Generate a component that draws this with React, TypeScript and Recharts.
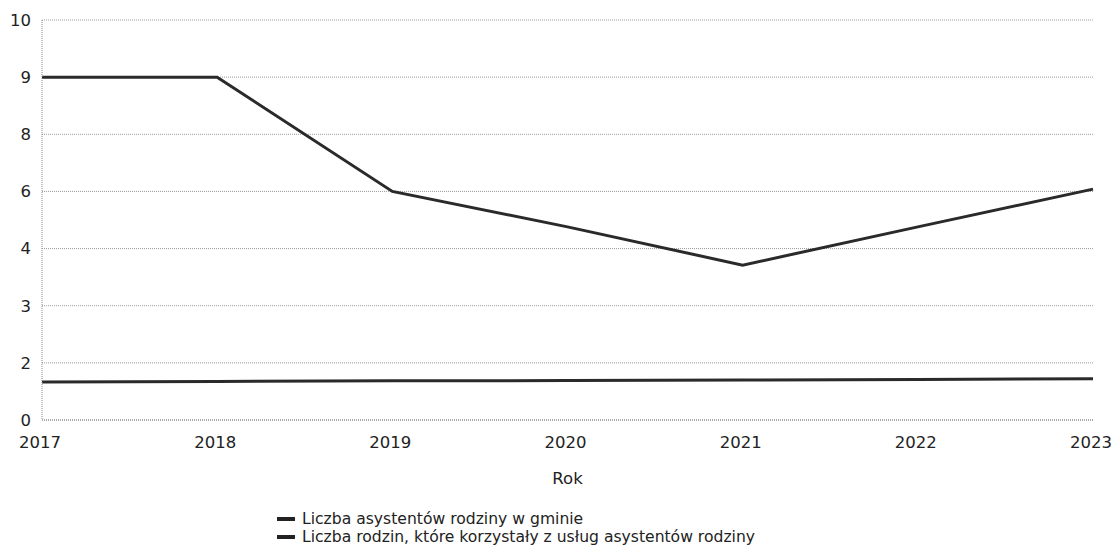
import React from 'react';
import { LineChart, Line, XAxis, YAxis, CartesianGrid, Legend } from 'recharts';

const years = ['2017', '2018', '2019', '2020', '2021', '2022', '2023'];
// Y tick labels as printed (evenly spaced on the axis)
const yTickLabels = [0, 2, 3, 4, 6, 8, 9, 10];
const assistants = [1.33, 1.35, 1.37, 1.38, 1.4, 1.42, 1.44];
const families = [9, 9, 6, 4.76, 3.71, 4.76, 6.08];
const seriesNames = [
  'Liczba asystentów rodziny w gminie',
  'Liczba rodzin, które korzystały z usług asystentów rodziny',
];

// map a value onto the evenly spaced printed tick positions
function toPos(v: number): number {
  for (let i = 0; i < yTickLabels.length - 1; i++) {
    const a = yTickLabels[i];
    const b = yTickLabels[i + 1];
    if (v >= a && v <= b) return i + (v - a) / (b - a);
  }
  return v < yTickLabels[0] ? 0 : yTickLabels.length - 1;
}

const data = years.map((y, i) => ({
  year: y,
  a: toPos(assistants[i]),
  f: toPos(families[i]),
}));

const tickFont = { fontFamily: 'DejaVu Sans', fontSize: 16.5, fill: '#222' };

const LegendContent = (props: any) => {
  const { payload } = props;
  return (
    <div style={{ fontFamily: 'DejaVu Sans', fontSize: 15.6, lineHeight: '18px', color: '#222' }}>
      {(payload || []).map((p: any, i: number) => (
        <div key={i} style={{ position: 'relative', height: 18, paddingLeft: 25, whiteSpace: 'nowrap' }}>
          <span style={{ position: 'absolute', left: 0, top: 7, width: 18, height: 4, background: '#222' }} />
          <span>{p.value}</span>
        </div>
      ))}
    </div>
  );
};

export default function App() {
  return (
    <div style={{ position: 'absolute', left: 0, top: 0, width: 1116, height: 550, background: '#fff' }}>
      <LineChart width={1116} height={550} data={data} margin={{ top: 20, right: 23, left: 0, bottom: 60 }}>
        <CartesianGrid vertical={false} stroke="#9a9a9a" strokeDasharray="1 1" />
        <XAxis
          dataKey="year"
          tickLine={false}
          tickSize={0}
          tickMargin={16}
          axisLine={{ stroke: '#888', strokeDasharray: '1 1' }}
          tick={{ ...tickFont, dx: -2 }}
          height={70}
          interval={0}
          label={{ value: 'Rok', position: 'insideBottom', offset: 6, style: { ...tickFont } }}
        />
        <YAxis
          type="number"
          domain={[0, 7]}
          ticks={[0, 1, 2, 3, 4, 5, 6, 7]}
          tickFormatter={(v: number) => String(yTickLabels[v])}
          width={42}
          tickLine={false}
          tickSize={0}
          tickMargin={11}
          axisLine={{ stroke: '#888', strokeDasharray: '1 1' }}
          tick={tickFont}
          interval={0}
        />
        <Legend
          layout="horizontal"
          verticalAlign="middle"
          align="center"
          content={<LegendContent />}
          wrapperStyle={{ left: 277, top: 510, width: 560, height: 36 }}
        />
        <Line
          name={seriesNames[0]}
          dataKey="a"
          stroke="#2a2a2a"
          strokeWidth={3}
          dot={false}
          activeDot={false}
          isAnimationActive={false}
        />
        <Line
          name={seriesNames[1]}
          dataKey="f"
          stroke="#2a2a2a"
          strokeWidth={3}
          dot={false}
          activeDot={false}
          isAnimationActive={false}
        />
      </LineChart>
    </div>
  );
}
